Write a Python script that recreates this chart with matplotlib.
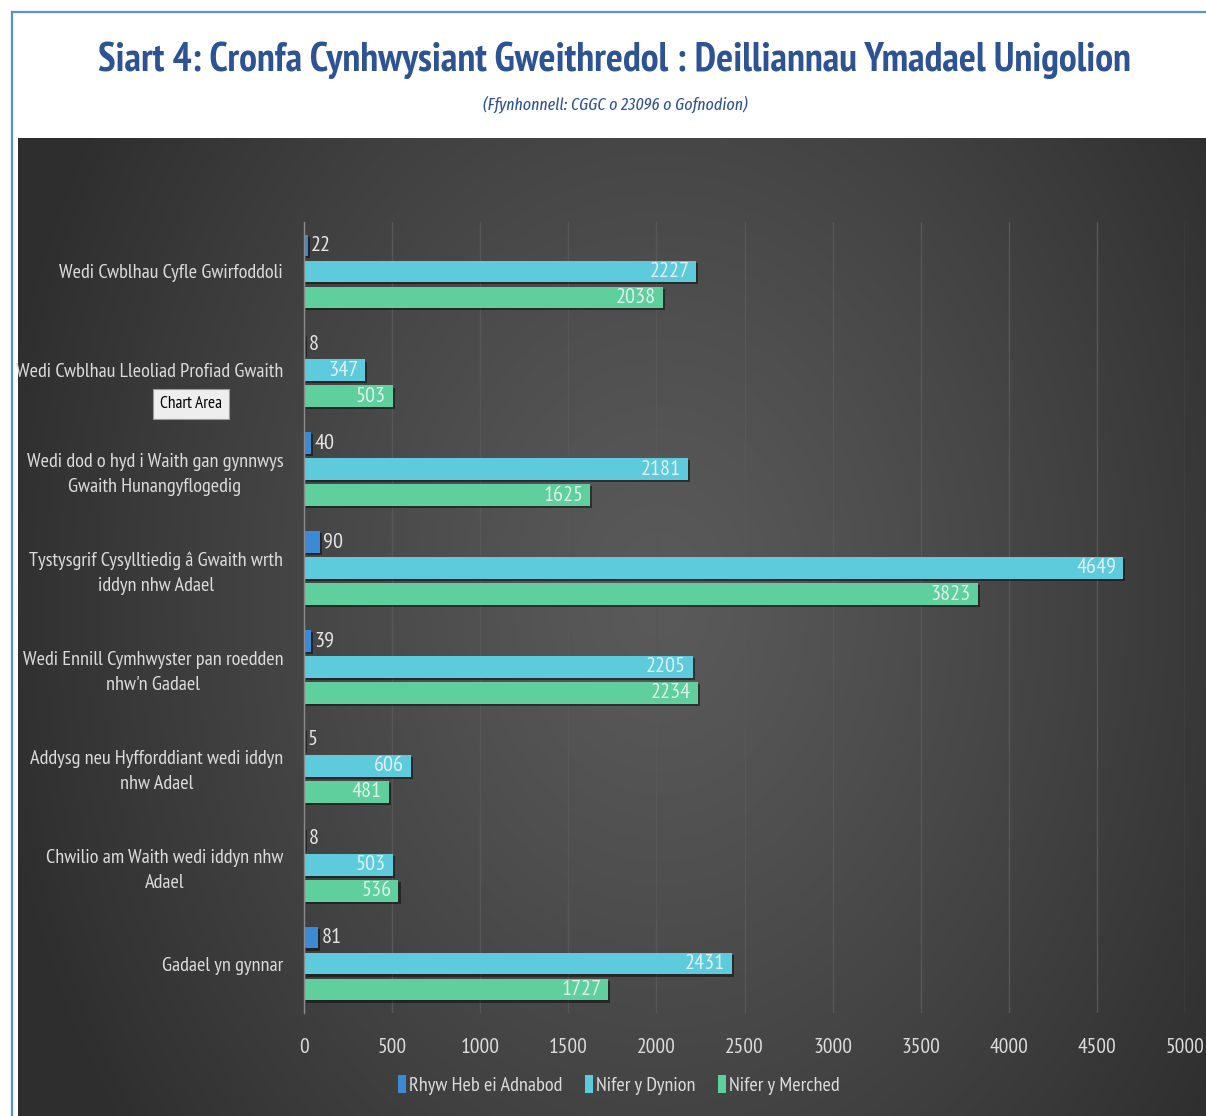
import matplotlib
matplotlib.use("Agg")
import matplotlib.pyplot as plt
import numpy as np
from matplotlib.patches import Patch
from matplotlib.lines import Line2D
import matplotlib.patheffects as pe

# ---------------- data ----------------
categories = [
    "Wedi Cwblhau Cyfle Gwirfoddoli",
    "Wedi Cwblhau Lleoliad Profiad Gwaith",
    "Wedi dod o hyd i Waith gan gynnwys\nGwaith Hunangyflogedig",
    "Tystysgrif Cysylltiedig â Gwaith wrth\niddyn nhw Adael",
    "Wedi Ennill Cymhwyster pan roedden\nnhw'n Gadael",
    "Addysg neu Hyfforddiant wedi iddyn\nnhw Adael",
    "Chwilio am Waith wedi iddyn nhw\nAdael",
    "Gadael yn gynnar",
]
series_names = ["Rhyw Heb ei Adnabod", "Nifer y Dynion", "Nifer y Merched"]
rhyw = [22, 8, 40, 90, 39, 5, 8, 81]
dynion = [2227, 347, 2181, 4649, 2205, 606, 503, 2431]
merched = [2038, 503, 1625, 3823, 2234, 481, 536, 1727]
xticks = [0, 500, 1000, 1500, 2000, 2500, 3000, 3500, 4000, 4500, 5000]

title = "Siart 4: Cronfa Cynhwysiant Gweithredol : Deilliannau Ymadael Unigolion"
subtitle = "(Ffynhonnell: CGGC o 23096 o Gofnodion)"

# ---------------- style ----------------
W, H = 1206, 1116
FONT = ["PT Sans Narrow", "DejaVu Sans"]
colors = ["#3b8ad3", "#5dcbdb", "#5ecf9d"]
title_color = "#2d5394"
txt_color = "#dcdcdc"

fig = plt.figure(figsize=(W / 100, H / 100), dpi=100)
fig.patch.set_facecolor("white")

# dark gradient background panel
bg_left, bg_top = 18, 138
bg = fig.add_axes([bg_left / W, 0, 1 - bg_left / W, (H - bg_top) / H], zorder=-5)
yy, xx = np.mgrid[bg_top:H, bg_left:W]
dx = (xx - 660) / 680.0
dy = (yy - 600) / 900.0
d = np.clip(np.sqrt(dx ** 2 + dy ** 2), 0, 1.2)
v = (90 - 44 * np.clip(d, 0, 1) ** 1.2) / 255.0
img = np.dstack([v, v, v])
bg.imshow(img, aspect="auto", extent=[0, 1, 0, 1], interpolation="bilinear")
bg.set_axis_off()

# blue frame lines
fig.add_artist(Line2D([12 / W, 1], [1 - 12 / H, 1 - 12 / H], color="#5b8fd0", lw=1.6))
fig.add_artist(Line2D([12 / W, 12 / W], [0, 1 - 12 / H], color="#5b8fd0", lw=1.6))

# main axes
ax_l, ax_r, ax_t, ax_b = 304, 1185, 222, 1013
ax = fig.add_axes([ax_l / W, 1 - ax_b / H, (ax_r - ax_l) / W, (ax_b - ax_t) / H])
ax.patch.set_alpha(0)

n = len(categories)
y = np.arange(n)
step = 0.263
bh = 0.22
shadow = [pe.SimplePatchShadow(offset=(1.5, -1.5), shadow_rgbFace="black", alpha=0.45), pe.Normal()]
bars = []
for k, (vals, col) in enumerate(zip([rhyw, dynion, merched], colors)):
    b = ax.barh(y + (k - 1) * step, vals, height=bh, color=col, zorder=3)
    for p in b:
        p.set_path_effects(shadow)
    bars.append(b)

ax.set_xlim(0, 5000)
ax.set_ylim(n - 0.5, -0.5)
ax.set_xticks(xticks)
ax.set_xticklabels([str(t) for t in xticks], family=FONT, fontsize=15.5, color=txt_color)
ax.set_yticks(y)
ax.set_yticklabels(categories, family=FONT, fontsize=14.6, color=txt_color,
                   multialignment="center", linespacing=1.5)
ax.tick_params(axis="both", length=0)
ax.tick_params(axis="x", pad=18)
ax.tick_params(axis="y", pad=15)
ax.grid(axis="x", color="#575757", lw=1.0, zorder=0)
for s in ["top", "right", "bottom"]:
    ax.spines[s].set_visible(False)
ax.spines["left"].set_color("#8a8a8a")
ax.spines["left"].set_linewidth(1.0)
ax.spines["left"].set_zorder(4)

# data labels
for p, val in zip(bars[0], rhyw):
    ax.text(val + 18, p.get_y() + p.get_height() / 2, str(val), ha="left", va="center",
            family=FONT, fontsize=16, color="#e4e4e4", zorder=5)
for b, vals in zip(bars[1:], [dynion, merched]):
    for p, val in zip(b, vals):
        ax.text(val - 40, p.get_y() + p.get_height() / 2, str(val), ha="right", va="center",
                family=FONT, fontsize=16, color="#eef6f6", alpha=0.88, zorder=5)

# legend
handles = [Patch(facecolor=c, edgecolor="none") for c in colors]
leg = fig.legend(handles, series_names, loc="center", bbox_to_anchor=(619 / W, 1 - 1085 / H),
                 ncol=3, frameon=False, handlelength=0.4, handleheight=1.0, handletextpad=0.15,
                 columnspacing=1.1, prop={"family": FONT, "size": 14.6})
for t in leg.get_texts():
    t.set_color(txt_color)

# "Chart Area" tooltip
fig.text(191 / W, 1 - 404 / H, "Chart Area", ha="center", va="center", family=FONT,
         fontsize=12.5, color="black",
         bbox=dict(boxstyle="square,pad=0.4", facecolor="#eeeeee", edgecolor="#9a9a9a", lw=0.8))

# title and subtitle, scaled to match the reference widths
fig.canvas.draw()
r = fig.canvas.get_renderer()
t1 = fig.text(614 / W, 1 - 60 / H, title, ha="center", va="center", family=FONT,
              weight="bold", fontsize=30, color=title_color)
w1 = t1.get_window_extent(r).width
t1.set_fontsize(30 * 1032 / w1)
t2 = fig.text(615 / W, 1 - 104 / H, subtitle, ha="center", va="center",
              family=["Fira Sans Extra Condensed", "DejaVu Sans"], style="italic",
              fontsize=14, color=title_color)
w2 = t2.get_window_extent(r).width
t2.set_fontsize(14 * 265 / w2)

fig.savefig("out.png", dpi=100, facecolor="white")
